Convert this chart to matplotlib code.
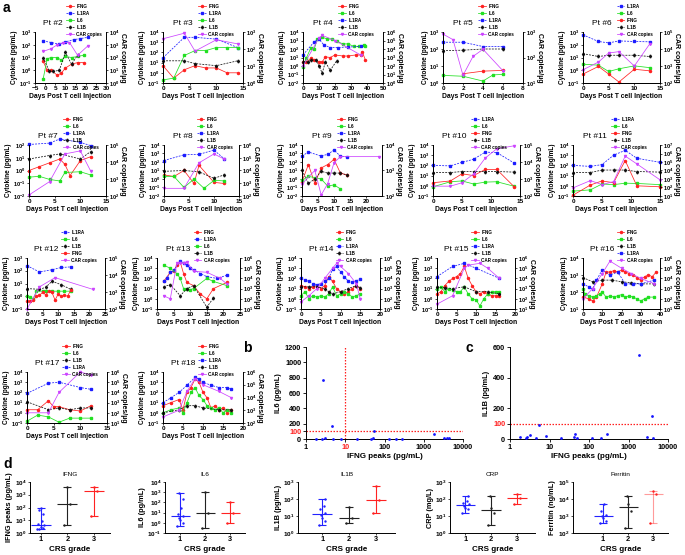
import matplotlib
matplotlib.use("Agg")
import matplotlib.pyplot as plt
import numpy as np
from matplotlib.ticker import LogLocator, NullLocator, FixedLocator

plt.rcParams['font.family'] = ['Liberation Sans', 'DejaVu Sans']
plt.rcParams['font.weight'] = 'bold'
plt.rcParams['axes.labelweight'] = 'bold'
plt.rcParams['mathtext.fontset'] = 'custom'
plt.rcParams['mathtext.rm'] = 'Liberation Sans:bold'
plt.rcParams['mathtext.bf'] = 'Liberation Sans:bold'
plt.rcParams['mathtext.default'] = 'bf'
plt.rcParams['axes.linewidth'] = 0.7

# --- patient time courses: name -> (days, values); CAR copies on right axis ---
PT2 = {"IFNG": ([-1, 1, 3, 6, 8, 10, 13, 16, 19], [5, 1, 1, 0.4, 0.6, 1.5, 3, 4, 4]),
       "IL1RA": ([-1, 3, 7, 10, 14, 17, 21], [200, 150, 110, 170, 250, 300, 380]),
       "IL6": ([-1, 1, 3, 6, 8, 10, 13, 16, 19], [0.2, 8, 10, 10, 6, 12, 10, 12, 15]),
       "IL1B": ([-1, 2, 4, 7, 10, 13, 16], [10, 0.9, 0.8, 1, 25, 3, 15]),
       "CAR copies": ([-1, 3, 6, 9, 12, 16, 21], [300, 500, 1000, 1500, 1500, 150, 800])}
PT3 = {"IFNG": ([0, 2, 4, 6, 8, 10, 12, 14], [5, 0.3, 2, 5, 3, 3, 1, 1]),
       "IL1RA": ([0, 4, 6, 10, 14], [30, 3000, 3000, 2000, 300]),
       "IL6": ([0, 2, 4, 6, 8, 10, 12, 14], [0.2, 0.3, 50, 150, 150, 300, 300, 300]),
       "IL1B": ([0, 4, 6, 10, 14], [15, 15, 8, 5, 15]),
       "CAR copies": ([0, 4, 6, 10, 14], [400, 850, 75, 350, 200])}
PT4 = {"IFNG": ([0, 2, 5, 7, 10, 12, 14, 17, 20, 25, 28, 33, 36, 37, 39],
                [3, 3, 8, 5, 3, 3, 12, 10, 20, 15, 15, 20, 20, 50, 5]),
       "IL6": ([0, 2, 5, 7, 9, 12, 15, 18, 21, 25, 28, 32, 35, 38, 39],
               [0.8, 8, 150, 100, 1500, 2500, 1500, 1500, 800, 400, 400, 200, 200, 300, 250]),
       "IL1RA": ([0, 7, 10, 13, 17, 22, 28, 36], [20, 700, 1500, 300, 150, 150, 170, 200]),
       "IL1B": ([0, 3, 5, 8, 10, 12, 14, 17, 21], [3, 3, 5, 5, 1, 0.15, 3, 0.3, 4]),
       "CAR copies": ([0, 10, 12, 20, 36], [100, 2e5, 4e5, 1e5, 2000])}
PT5 = {"IFNG": ([2, 4, 6], [3.5, 5, 5.5]),
       "IL6": ([0, 2, 4, 5, 6], [2.8, 2.5, 1.3, 3, 3.2]),
       "IL1RA": ([0, 2, 4, 6], [250, 250, 140, 140]),
       "IL1B": ([0, 2, 4, 6], [80, 85, 100, 100]),
       "CAR copies": ([0, 1, 2, 3, 4, 6], [830, 500, 20, 110, 210, 30])}
PT6 = {"IL1RA": ([0, 3, 5, 7, 10, 13], [600, 180, 140, 200, 180, 170]),
       "IL6": ([0, 3, 5, 7, 10, 13], [3, 2.5, 0.8, 1.3, 2.2, 1.6]),
       "IFNG": ([0, 3, 5, 7, 10, 13], [0.5, 2, 0.5, 0.12, 1.2, 0.9]),
       "IL1B": ([0, 3, 5, 7, 10, 13], [20, 12, 15, 15, 15, 12]),
       "CAR copies": ([0, 3, 5, 7, 10, 13], [600, 1700, 5800, 7000, 1000, 2e4])}
PT7 = {"IFNG": ([0, 2, 4, 6, 7, 8, 10, 12], [1, 2, 4, 8, 3, 0.4, 6, 12]),
       "IL6": ([0, 2, 4, 6, 7, 10, 12], [0.3, 0.35, 0.2, 0.15, 0.7, 0.8, 0.45]),
       "IL1RA": ([0, 4, 6, 10, 12], [110, 140, 300, 160, 90]),
       "IL1B": ([0, 4, 6, 10, 12], [8, 15, 20, 8, 30]),
       "CAR copies": ([0, 4, 7, 10, 12], [115, 700, 3e4, 4.5e4, 3000])}
PT8 = {"IFNG": ([0, 2, 4, 6, 7, 10, 12], [3, 2, 10, 0.3, 40, 0.4, 0.3]),
       "IL6": ([0, 2, 4, 6, 8, 10, 12], [2, 2, 0.1, 1, 0.08, 0.7, 0.6]),
       "IL1RA": ([0, 4, 7, 10, 12], [150, 700, 800, 2500, 250]),
       "IL1B": ([0, 4, 7, 10, 12], [8, 10, 7, 1.2, 3]),
       "CAR copies": ([0, 4, 7, 10, 12], [400, 400, 4e4, 2e5, 8e4])}
PT9 = {"IFNG": ([0, 2, 4, 6, 8, 10, 12, 14], [0.5, 50, 0.3, 20, 50, 200, 5, 3]),
       "IL6": ([0, 2, 4, 6, 8, 10, 12], [0.7, 2, 1.5, 1, 0.15, 0.2, 0.07]),
       "IL1RA": ([0, 2, 6, 8, 10, 12, 14], [500, 1500, 500, 800, 2500, 500, 400]),
       "IL1B": ([0, 2, 4, 6, 8, 10, 12, 14], [10, 0.3, 1, 8, 5, 5, 5, 3]),
       "CAR copies": ([0, 4, 6, 8, 10, 12, 24], [300, 1000, 110, 300, 2000, 3500, 3500])}
PT10 = {"IL1RA": ([0, 3, 5, 7, 9, 11, 14], [100, 90, 200, 400, 2000, 1800, 170]),
        "IL6": ([0, 3, 5, 7, 9, 11, 14], [0.8, 2.5, 3, 1.5, 2.3, 2.5, 0.9]),
        "IFNG": ([0, 3, 5, 7, 9, 11, 14], [2, 3, 15, 10, 40, 40, 0.8]),
        "IL1B": ([0, 3, 5, 7, 9, 11, 14], [20, 20, 25, 25, 25, 25, 22]),
        "CAR copies": ([0, 3, 5, 7, 9, 11, 14], [380, 380, 600, 2000, 1.7e4, 6e4, 9e4])}
PT11 = {"IL1RA": ([0, 3, 5, 7, 9, 11, 15], [100, 80, 120, 1000, 3000, 500, 200]),
        "IL6": ([0, 3, 5, 7, 9, 11, 15], [0.3, 0.4, 1.5, 1.3, 1.8, 1.7, 1.3]),
        "IFNG": ([0, 3, 5, 7, 9, 11, 15], [0.12, 1.2, 3, 2, 300, 1, 0.8]),
        "IL1B": ([0, 3, 5, 7, 9, 11, 15], [20, 20, 35, 35, 35, 25, 22]),
        "CAR copies": ([0, 3, 5, 7, 9, 11, 15], [90, 650, 220, 500, 5e5, 6e4, 800])}
PT12 = {"IL1RA": ([0, 4, 8, 11, 14], [250, 80, 120, 180, 200]),
        "IL6": ([0, 1, 2, 3, 5, 6, 8, 10, 12, 14], [1, 0.8, 0.6, 2.5, 2.5, 2.5, 2.5, 2.5, 2.5, 2.5]),
        "IL1B": ([0, 4, 6, 8, 11, 14], [4, 3.5, 5, 15, 8, 3.5]),
        "IFNG": ([0, 1, 2, 3, 4, 5, 6, 7, 8, 9, 10, 11, 12, 13, 14],
                 [0.4, 0.4, 0.5, 1, 1.2, 2, 1.3, 2.5, 2, 0.5, 1.5, 1, 1.2, 1, 3]),
        "CAR copies": ([0, 4, 9, 21], [100, 2000, 7000, 1450])}
PT13 = {"IFNG": ([2, 4, 5, 6, 7, 8, 9, 11, 13, 15, 17, 21], [50, 400, 500, 2000, 4000, 300, 40, 20, 3, 1, 10, 40]),
        "IL1RA": ([2, 3, 4, 5, 7, 8, 9, 10, 11, 13, 15, 18, 21],
                  [50, 100, 400, 600, 5000, 3000, 2000, 1000, 700, 300, 150, 100, 200]),
        "IL6": ([2, 4, 6, 7, 8, 9, 10, 11, 15, 17, 21], [2000, 1000, 300, 100, 10, 10, 8, 10, 100, 50, 20]),
        "IL1B": ([2, 4, 7, 9, 11, 15, 17], [15, 25, 2, 10, 20, 0.15, 1.2]),
        "CAR copies": ([2, 4, 6, 7, 8, 9, 11, 15, 19, 21], [200, 100, 3e5, 3e5, 3e5, 4e5, 5e4, 4e4, 1e4, 3000])}
PT14 = {"IFNG": ([0, 1, 2, 3, 4, 5, 6, 7, 8, 9, 10, 11, 12, 13, 14, 15],
                 [20, 15, 10, 15, 20, 10, 20, 150, 50, 10, 5, 3, 5, 10, 20, 10]),
        "IL6": ([0, 1, 2, 3, 4, 5, 6, 7, 8, 9, 10, 11, 12, 13, 14, 15],
                [2, 5, 1, 2, 1.5, 2, 1.5, 3, 15, 2, 3, 5, 3, 1.5, 2, 3]),
        "IL1RA": ([0, 1, 2, 3, 4, 5, 6, 7, 8, 9, 10, 11, 12, 13, 14, 15],
                  [100, 70, 50, 30, 25, 30, 50, 100, 800, 1500, 400, 150, 50, 40, 60, 80]),
        "IL1B": ([0, 2, 4, 6, 7, 8, 10, 12, 14, 15], [15, 15, 15, 10, 5, 3, 5, 10, 20, 12]),
        "CAR copies": ([0, 2, 4, 6, 8, 9, 10, 12, 14, 15], [50, 200, 1000, 1e4, 1e5, 3e5, 1.5e5, 3e4, 3000, 100])}
PT15 = {"IFNG": ([0, 1, 2, 3, 4, 5, 6, 7, 8, 9, 10, 11, 12, 13, 14, 15, 16],
                 [3, 5, 20, 50, 100, 150, 300, 1500, 100, 20, 5, 3, 5, 3, 2, 2, 2]),
        "IL6": ([0, 1, 2, 3, 4, 5, 6, 7, 8, 9, 10, 11, 12, 13, 14, 15, 16],
                [10, 15, 5, 10, 8, 5, 5, 15, 3, 1, 0.8, 0.2, 1, 3, 5, 5, 5]),
        "IL1RA": ([0, 4, 7, 10, 16], [150, 1500, 3000, 1000, 100]),
        "IL1B": ([0, 2, 4, 7, 10, 13, 16], [15, 12, 10, 15, 5, 5, 3]),
        "CAR copies": ([0, 4, 7, 8, 11, 13, 16], [30, 200, 1e5, 2e5, 3e5, 1e5, 1e4])}
PT16 = {"IFNG": ([0, 3, 5, 7, 10, 12, 14, 16, 18, 20, 22, 24, 26, 28, 30, 32, 34, 36, 38],
                 [50, 40, 30, 50, 300, 1500, 1500, 1800, 1500, 2000, 1500, 1200, 1000, 700, 500, 800, 1000, 800, 1500]),
        "IL6": ([0, 1, 3, 5, 7, 9, 10, 12, 14, 16, 18, 20, 22, 24, 26, 28, 30, 32, 34, 37],
                [150, 80, 60, 50, 60, 80, 100, 50, 60, 50, 60, 70, 50, 60, 50, 40, 30, 40, 50, 50]),
        "IL1B": ([0, 5, 10, 15, 20, 25, 30, 37], [700, 400, 500, 500, 400, 350, 300, 300]),
        "IL1RA": ([0, 3, 5, 7, 10, 14, 18, 22, 26, 30, 37], [300, 200, 150, 500, 2000, 1000, 1500, 300, 300, 300, 500]),
        "CAR copies": ([0, 5, 10, 14, 20, 25, 30, 37], [100, 1000, 3e4, 5e5, 1e5, 3e4, 1e4, 3000])}
PT17 = {"IFNG": ([0, 2, 4, 5, 6, 8, 10, 12], [2, 2, 15, 4, 4, 2, 1.5, 5]),
        "IL6": ([0, 2, 4, 6, 8, 10, 12], [0.15, 0.6, 0.4, 0.12, 0.3, 0.3, 0.3]),
        "IL1B": ([0, 4, 6, 8, 10, 12], [12, 2, 3, 2, 3, 3]),
        "IL1RA": ([0, 4, 6, 10, 12], [80, 800, 1000, 300, 200]),
        "CAR copies": ([0, 4, 6, 10, 12], [100, 100, 1e4, 1e6, 5e5])}
PT18 = {"IFNG": ([0, 2, 4, 5, 6, 7, 8, 9, 10, 11, 12, 13, 14, 15, 16, 17],
                 [5, 10, 20, 2, 100, 300, 2000, 1000, 100, 30, 3, 5, 2, 3, 1, 2]),
        "IL6": ([0, 2, 4, 5, 6, 7, 8, 9, 10, 11, 12, 13, 14, 15, 16, 17],
                [1, 2, 3, 1, 10, 100, 300, 50, 20, 5, 3, 2, 3, 1, 2, 1]),
        "IL1RA": ([0, 2, 4, 6, 8, 9, 10, 12, 14, 16, 17], [10, 30, 100, 500, 3000, 2000, 1000, 500, 300, 300, 200]),
        "IL1B": ([0, 4, 6, 8, 10, 14, 17], [1, 2, 5, 5, 3, 2, 2]),
        "CAR copies": ([0, 4, 6, 8, 10, 14, 17], [300, 1000, 3e4, 3e5, 1e5, 3e4, 1e4])}

# --- panel b / c: IFNG peak vs IL6 / IL1B ---
b_ifng = [1.8, 2.5, 2.7, 3, 4.5, 5, 8, 20, 45, 50, 55, 130, 200, 280, 1800, 3200, 4000, 4400]
b_il6 = [5, 5, 770, 15, 170, 5, 3, 5, 5, 8, 100, 5, 5, 5, 65, 15, 12, 18]
c_ifng = [1.8, 2.6, 2.7, 3.3, 4.5, 5.5, 8, 20, 42, 45, 50, 120, 200, 280, 1800, 3000, 3900, 4100]
c_il1b = [12, 5, 12, 25, 8, 90, 18, 5, 10, 30, 5, 5, 5, 30, 550, 15, 150, 5]

# --- panel d: values per CRS grade (1, 2, 3) ---
d_ifng = [[2, 2.5, 3, 2, 4, 5, 8, 30, 60, 90], [4, 200, 4000], [20, 1800, 4000]]
d_il6 = [[0.5, 1, 2, 3, 5, 8, 30, 200, 800], [0.3, 10, 1000], [1, 10, 100]]
d_il1b = [[3, 5, 8, 12, 15, 25, 40, 100], [4, 8, 35], [15, 90, 550]]
d_crp = [[15, 25, 30, 40, 50, 60, 80, 150], [3, 15, 30, 150], [50, 120, 200]]
d_ferritin = [[400, 500, 800, 1000, 1200, 2000, 5000], [200, 2000, 5000, 15000], [400, 20000, 30000]]

STYLE = {
    "IFNG": dict(color="#ff2222", ls="-", marker="o"),
    "IL1RA": dict(color="#1c1cff", ls=(0, (2.5, 1.5)), marker="s"),
    "IL6": dict(color="#22e022", ls="-", marker="s"),
    "IL1B": dict(color="#111111", ls=(0, (2.5, 1.5)), marker="d"),
    "CAR copies": dict(color="#cc44ff", ls="-", marker="v"),
}

W, H = 685, 555
fig = plt.figure(figsize=(6.85, 5.55), dpi=100)


def box(l, t, r, b):
    return [l / W, 1 - b / H, (r - l) / W, (b - t) / H]


def log_axis(a):
    a.set_yscale("log")
    a.yaxis.set_major_locator(LogLocator(base=10, numticks=30))
    a.yaxis.set_minor_locator(NullLocator())


def draw_patient(px, title, data, xlim, xticks, yl, yr):
    ax = fig.add_axes(box(*px))
    ax2 = ax.twinx()
    handles = []
    for name, (d, v) in data.items():
        st = STYLE[name]
        target = ax2 if name == "CAR copies" else ax
        h, = target.plot(d, v, color=st["color"], ls=st["ls"], marker=st["marker"],
                         ms=1.5, lw=0.55, label=name, clip_on=False)
        handles.append(h)
    log_axis(ax)
    log_axis(ax2)
    ax.set_ylim(*yl)
    ax2.set_ylim(*yr)
    ax.set_xlim(*xlim)
    ax.set_xticks(xticks)
    for a in (ax, ax2):
        a.spines['top'].set_visible(False)
        a.tick_params(labelsize=4.1, length=1.5, width=0.5, pad=0.8)
    ax.tick_params(axis='x', labelsize=4.6)
    ax.spines['right'].set_visible(False)
    ax.set_ylabel("Cytokine (pg/mL)", fontsize=4.7, labelpad=0.5)
    ax2.set_ylabel("CAR copies/µg", fontsize=5, rotation=270, labelpad=4.5)
    ax.set_xlabel("Days Post T cell Injection", fontsize=4.9, labelpad=1.2)
    ax.text(0.25, 1.1, title, transform=ax.transAxes, ha='center', va='bottom',
            fontsize=6, fontweight='normal')
    ax2.legend(handles=handles, loc='lower left', bbox_to_anchor=(0.44, 0.9), fontsize=3.3,
               frameon=False, handlelength=1.6, labelspacing=0.45, borderpad=0,
               handletextpad=0.6, borderaxespad=0)


R = [(32, 83), (145, 196), (258, 309), (372, 423)]
draw_patient((35, R[0][0], 106, R[0][1]), "Pt #2", PT2, (-5, 30), range(-5, 31, 5), (0.1, 1e3), (1, 1e4))
draw_patient((163, R[0][0], 243, R[0][1]), "Pt #3", PT3, (0, 15), [0, 5, 10, 15], (0.1, 1e4), (1, 1e3))
draw_patient((303, R[0][0], 383, R[0][1]), "Pt #4", PT4, (0, 50), range(0, 51, 10), (0.01, 1e4), (1, 1e6))
draw_patient((443, R[0][0], 523, R[0][1]), "Pt #5", PT5, (0, 8), [0, 2, 4, 6, 8], (1, 1e3), (10, 1e3))
draw_patient((583, R[0][0], 660, R[0][1]), "Pt #6", PT6, (0, 15), [0, 5, 10, 15], (0.1, 1e3), (100, 1e5))

draw_patient((29, R[1][0], 106, R[1][1]), "Pt #7", PT7, (0, 15), [0, 5, 10, 15], (0.01, 1e2), (100, 1e5))
draw_patient((164, R[1][0], 239, R[1][1]), "Pt #8", PT8, (0, 15), [0, 5, 10, 15], (0.01, 1e4), (100, 1e6))
draw_patient((302, R[1][0], 382, R[1][1]), "Pt #9", PT9, (0, 25), [0, 5, 10, 15, 20], (0.01, 1e4), (100, 1e4))
draw_patient((433, R[1][0], 520, R[1][1]), "Pt #10", PT10, (0, 15), [0, 5, 10, 15], (0.1, 1e4), (100, 1e5))
draw_patient((573, R[1][0], 660, R[1][1]), "Pt #11", PT11, (0, 15), [0, 5, 10, 15], (0.1, 1e4), (10, 1e7))

draw_patient((27, R[2][0], 105, R[2][1]), "Pt #12", PT12, (0, 25), range(0, 26, 5), (0.1, 1e3), (100, 1e5))
draw_patient((157, R[2][0], 240, R[2][1]), "Pt #13", PT13, (0, 25), range(0, 26, 5), (0.1, 1e4), (10, 1e6))
draw_patient((301, R[2][0], 380, R[2][1]), "Pt #14", PT14, (0, 20), range(0, 21, 5), (0.1, 1e4), (10, 1e6))
draw_patient((437, R[2][0], 515, R[2][1]), "Pt #15", PT15, (0, 20), range(0, 21, 5), (0.1, 1e4), (10, 1e6))
draw_patient((583, R[2][0], 660, R[2][1]), "Pt #16", PT16, (0, 40), range(0, 41, 10), (10, 1e4), (10, 1e6))

draw_patient((27, R[3][0], 107, R[3][1]), "Pt #17", PT17, (0, 15), [0, 5, 10, 15], (0.1, 1e4), (10, 1e6))
draw_patient((163, R[3][0], 243, R[3][1]), "Pt #18", PT18, (0, 20), range(0, 21, 5), (0.1, 1e4), (100, 1e6))


def draw_scatter(px, xs, ys, ylabel, ymax, yticks, vline):
    ax = fig.add_axes(box(*px))
    ax.scatter(xs, ys, s=4, color="#1414ff", zorder=3, clip_on=False, linewidths=0)
    ax.set_xscale("log")
    ax.set_xlim(1, 10000)
    ax.set_ylim(0, ymax)
    if vline:
        ax.axvline(10, color="#ff2020", ls=(0, (1.2, 1.2)), lw=0.9)
    ax.axhline(100, color="#ff2020", ls=(0, (1.2, 1.2)), lw=0.9)
    ax.xaxis.set_major_locator(FixedLocator([1, 10, 100, 1000, 10000]))
    ax.xaxis.set_minor_locator(NullLocator())
    ax.set_xticklabels(["1", "10", "100", "1000", "10000"])
    ax.set_yticks(yticks)
    ax.set_yticklabels([str(t) for t in yticks])
    for lab in ax.get_yticklabels():
        if lab.get_text() == "100":
            lab.set_color("#ff2222")
    if vline:
        ax.get_xticklabels()[1].set_color("#ff2222")
    ax.spines['top'].set_visible(False)
    ax.spines['right'].set_visible(False)
    ax.tick_params(labelsize=5.3, length=2, width=0.6, pad=1.5)
    ax.set_xlabel("IFNG peaks (pg/mL)", fontsize=5.8, labelpad=1.5)
    ax.set_ylabel(ylabel, fontsize=5.3, labelpad=2)


draw_scatter((306, 347, 463, 439), b_ifng, b_il6, "IL6 (pg/mL)", 1200,
             [0, 100, 200, 400, 600, 800, 1000, 1200], True)
draw_scatter((510, 347, 668, 439), c_ifng, c_il1b, "IL1B (pg/mL)", 600, [0, 100, 200, 400, 600], False)

GRADE_COLORS = ["#2222ff", "#222222", "#ff2222"]
OFFSETS = [-0.12, 0.1, 0.0, -0.06, 0.12, -0.1, 0.05, 0.1, -0.05, 0.0]


def draw_grades(px, title, ylabel, groups, ylim, xlim):
    ax = fig.add_axes(box(*px))
    for i, vals in enumerate(groups):
        x = i + 1
        v = np.array(vals, dtype=float)
        c = GRADE_COLORS[i]
        alpha = 0.45 if (title == "Ferritin" and i == 2) else 1
        ax.vlines(x, v.min(), v.max(), color=c, lw=0.8, alpha=alpha)
        ax.hlines([v.min(), v.max()], x - 0.15, x + 0.15, color=c, lw=0.8, alpha=alpha)
        ax.hlines(np.median(v), x - 0.38, x + 0.38, color=c, lw=0.8, alpha=alpha)
        ax.scatter(x + np.array(OFFSETS[:len(v)]), v, s=3, color=c, zorder=3, linewidths=0)
    log_axis(ax)
    ax.set_ylim(*ylim)
    ax.set_xlim(*xlim)
    ax.set_xticks([1, 2, 3])
    ax.spines['top'].set_visible(False)
    ax.spines['right'].set_visible(False)
    ax.tick_params(labelsize=4.6, length=1.5, width=0.5, pad=1)
    ax.tick_params(axis='x', labelsize=5.3)
    ax.set_title(title, fontsize=4.6, pad=4)
    ax.set_ylabel(ylabel, fontsize=5.3, labelpad=1)
    ax.set_xlabel("CRS grade", fontsize=5.8, labelpad=1.5)


DT, DB = 482, 533
draw_grades((30, DT, 110, DB), "IFNG", "IFNG peaks (pg/mL)", d_ifng, (1, 1e4), (0.6, 3.6))
draw_grades((165, DT, 245, DB), "IL6", "IL6 (pg/mL)", d_il6, (0.1, 1e4), (0.4, 3.6))
draw_grades((298, DT, 395, DB), "IL1B", "IL1B (pg/mL)", d_il1b, (1, 1e3), (0.1, 3.7))
draw_grades((450, DT, 535, DB), "CRP", "CRP (mg/L)", d_crp, (1, 1e3), (0.4, 3.7))
draw_grades((573, DT, 668, DB), "Ferritin", "Ferritin (ng/mL)", d_ferritin, (1e2, 1e5), (-0.2, 3.6))

for letter, x, y in [("a", 3, 12), ("b", 243, 352), ("c", 466, 352), ("d", 3, 468)]:
    fig.text(x / W, 1 - y / H, letter, fontsize=10, fontweight='bold', ha='left', va='baseline')

fig.savefig("out.png", dpi=100)
